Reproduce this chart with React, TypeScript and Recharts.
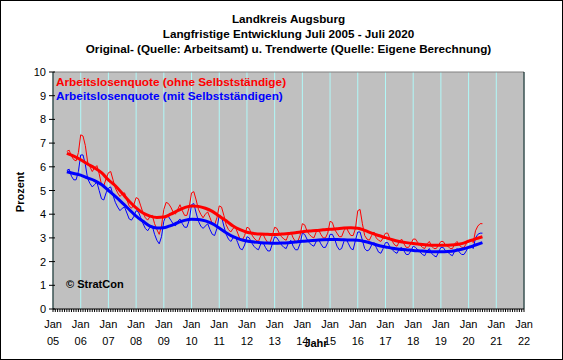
import { CartesianGrid, Line, LineChart, ReferenceLine, XAxis, YAxis } from 'recharts'

// monthly values Jul 2005 .. Jul 2020
const redOriginal = [
  6.65, 6.7, 6.45, 6.3, 6.25, 6.6,
  7.35, 7.3, 6.9, 6.2, 6.0, 5.8, 5.95, 6.05, 5.7, 5.25, 5.2, 5.5,
  5.75, 5.8, 5.45, 5.1, 4.9, 4.75, 4.85, 4.9, 4.6, 4.35, 4.25, 4.4,
  4.7, 4.65, 4.35, 4.05, 3.85, 3.75, 3.9, 3.95, 3.6, 3.35, 3.15, 3.5,
  4.2, 4.5, 4.45, 4.3, 4.1, 4.0, 4.2, 4.4, 4.15, 3.95, 3.95, 4.3,
  4.9, 4.95, 4.6, 4.2, 4.0, 3.85, 4.0, 4.1, 3.85, 3.6, 3.55, 3.85,
  4.35, 4.3, 3.95, 3.55, 3.35, 3.25, 3.4, 3.45, 3.2, 2.95, 2.9, 3.1,
  3.45, 3.4, 3.15, 3.0, 2.9, 2.85, 3.1, 3.15, 2.95, 2.8, 2.8, 3.1,
  3.45, 3.4, 3.2, 3.05, 2.95, 2.9, 3.15, 3.25, 3.0, 2.85, 2.85, 3.1,
  3.6, 3.55, 3.3, 3.15, 3.05, 3.0, 3.25, 3.35, 3.15, 3.0, 3.0, 3.2,
  3.7, 3.65, 3.35, 3.2, 3.05, 3.05, 3.3, 3.45, 3.25, 3.1, 3.1, 3.4,
  4.15, 4.2, 3.6, 3.1, 2.95, 2.9, 3.1, 3.25, 3.0, 2.9, 2.85, 3.0,
  3.2, 3.2, 2.95, 2.85, 2.7, 2.65, 2.85, 2.95, 2.75, 2.6, 2.6, 2.75,
  2.95, 2.95, 2.8, 2.7, 2.6, 2.55, 2.75, 2.85, 2.65, 2.55, 2.55, 2.7,
  2.85, 2.85, 2.7, 2.65, 2.55, 2.55, 2.75, 2.85, 2.7, 2.6, 2.6, 2.75,
  2.9, 2.9, 2.8, 3.3, 3.5, 3.6, 3.6,
]

const blueOriginal = [
  5.85, 5.9, 5.6, 5.45, 5.45, 5.8,
  6.5, 6.5, 6.1, 5.5, 5.3, 5.15, 5.25, 5.35, 5.0, 4.65, 4.6, 4.9,
  5.1, 5.15, 4.8, 4.5, 4.3, 4.15, 4.25, 4.3, 4.05, 3.8, 3.75, 3.9,
  4.15, 4.1, 3.85, 3.6, 3.4, 3.3, 3.45, 3.5, 3.15, 2.9, 2.75, 3.05,
  3.7, 3.95, 3.9, 3.75, 3.6, 3.5, 3.7, 3.8, 3.6, 3.45, 3.45, 3.75,
  4.4, 4.45, 4.05, 3.7, 3.5, 3.4, 3.5, 3.6, 3.35, 3.15, 3.1, 3.4,
  3.95, 3.9, 3.5, 3.15, 2.95, 2.85, 3.0, 3.05, 2.8, 2.55, 2.5, 2.7,
  3.05, 3.0, 2.8, 2.65, 2.55, 2.5, 2.75, 2.8, 2.6, 2.45, 2.45, 2.75,
  3.05, 3.0, 2.85, 2.7, 2.6, 2.55, 2.8, 2.9, 2.65, 2.5, 2.5, 2.75,
  3.2, 3.15, 2.95, 2.8, 2.7, 2.65, 2.85, 2.95, 2.75, 2.6, 2.6, 2.8,
  3.15, 3.15, 2.95, 2.65, 2.5, 2.55, 2.85, 2.95, 2.75, 2.55, 2.5, 2.9,
  3.25, 3.25, 2.9, 2.55, 2.45, 2.5, 2.7, 2.8, 2.6, 2.4, 2.35, 2.55,
  2.8, 2.8, 2.6, 2.5, 2.4, 2.35, 2.55, 2.6, 2.45, 2.3, 2.3, 2.45,
  2.65, 2.6, 2.5, 2.4, 2.3, 2.25, 2.45, 2.55, 2.35, 2.25, 2.2, 2.4,
  2.6, 2.6, 2.45, 2.4, 2.3, 2.25, 2.45, 2.55, 2.4, 2.3, 2.3, 2.45,
  2.65, 2.65, 2.55, 3.0, 3.15, 3.2, 3.2,
]

// quarterly trend values Jul 2005 .. Jul 2020
const redTrend = [
  6.57, 6.45,
  6.3, 6.12, 5.95, 5.75,
  5.45, 5.2, 4.88, 4.55,
  4.27, 4.05, 3.92, 3.86,
  3.88, 4.0, 4.15, 4.28,
  4.35, 4.33, 4.25, 4.12,
  3.92, 3.72, 3.5, 3.35,
  3.24, 3.19, 3.16, 3.15,
  3.14, 3.16, 3.19, 3.22,
  3.26, 3.29, 3.31, 3.34,
  3.36, 3.39, 3.42, 3.43,
  3.41, 3.32, 3.2, 3.1,
  3.01, 2.92, 2.85, 2.8,
  2.76, 2.73, 2.7, 2.69,
  2.69, 2.69, 2.71, 2.76,
  2.86, 2.96, 3.05,
]

const blueTrend = [
  5.79, 5.72,
  5.65, 5.53, 5.42, 5.25,
  5.0, 4.75, 4.48, 4.2,
  3.92, 3.7, 3.5, 3.42,
  3.43, 3.52, 3.64, 3.74,
  3.79, 3.78, 3.72, 3.6,
  3.42, 3.22, 3.05, 2.94,
  2.87, 2.83, 2.8, 2.78,
  2.77, 2.78, 2.8, 2.83,
  2.86, 2.88, 2.9, 2.92,
  2.93, 2.93, 2.92, 2.91,
  2.9, 2.85, 2.77, 2.68,
  2.62, 2.56, 2.52, 2.5,
  2.47, 2.45, 2.43, 2.42,
  2.42, 2.43, 2.46, 2.52,
  2.6, 2.7, 2.8,
]

const yearLabels = ['05', '06', '07', '08', '09', '10', '11', '12', '13', '14', '15', '16', '17', '18', '19', '20', '21', '22']
const yTicks = [0, 1, 2, 3, 4, 5, 6, 7, 8, 9, 10]

const titleLines = [
  'Landkreis Augsburg',
  'Langfristige Entwicklung Juli 2005 - Juli 2020',
  'Original- (Quelle: Arbeitsamt) u. Trendwerte (Quelle: Eigene Berechnung)',
]

const monthlyData = redOriginal.map((red, i) => ({ t: 2005 + (6 + i) / 12, red, blue: blueOriginal[i] }))
const trendData = redTrend.map((red, i) => ({ t: 2005.5 + i * 0.25, red, blue: blueTrend[i] }))

const monthTicks = Array.from({ length: 17 * 12 + 1 }, (_, k) => 2005 + k / 12)
const yearValues = yearLabels.map((_, i) => 2005 + i)

const FONT = '"Liberation Sans", Arial, sans-serif'

const XTick = ({ x, y, payload }: any) => {
  const k = Math.round((payload.value - 2005) * 12)
  const label = k % 12 === 0 ? yearLabels[k / 12] : null
  return (
    <g>
      <line x1={x} x2={x} y1={y} y2={y + 3} stroke="#000" />
      {label && (
        <text x={x} y={y + 19} textAnchor="middle" fontSize={11} fontFamily={FONT} fill="#000">
          Jan
        </text>
      )}
      {label && (
        <text x={x} y={y + 36} textAnchor="middle" fontSize={11} fontFamily={FONT} fill="#000">
          {label}
        </text>
      )}
    </g>
  )
}

const YTick = ({ x, y, payload, side }: any) => {
  const left = side === 'left'
  return (
    <g>
      <line x1={left ? x - 4 : x + 4} x2={left ? x + 2 : x - 2} y1={y} y2={y} stroke="#000" />
      <text
        x={left ? x - 7 : x + 7}
        y={y + 4}
        textAnchor={left ? 'end' : 'start'}
        fontSize={11}
        fontFamily={FONT}
        fill="#000"
      >
        {payload.value}
      </text>
    </g>
  )
}

const App = () => {
  return (
    <div style={{ position: 'absolute', left: 0, top: 0, width: 563, height: 360, background: '#fff' }}>
      <LineChart width={563} height={360} data={monthlyData} margin={{ top: 72, right: 0, bottom: 0, left: 0 }}>
        <CartesianGrid
          fill="#C0C0C0"
          fillOpacity={1}
          stroke="#B0F8F8"
          verticalValues={yearValues}
          horizontalValues={yTicks}
        />
        <XAxis
          dataKey="t"
          type="number"
          domain={[2005, 2022]}
          ticks={monthTicks}
          interval={0}
          height={51}
          tickSize={0}
          tickMargin={0}
          tickLine={false}
          axisLine={{ stroke: '#000' }}
          tick={<XTick />}
        />
        <YAxis
          yAxisId="left"
          domain={[0, 10]}
          ticks={yTicks}
          interval={0}
          width={53}
          tickSize={0}
          tickMargin={0}
          tickLine={false}
          axisLine={{ stroke: '#000' }}
          tick={<YTick side="left" />}
        />
        <YAxis
          yAxisId="right"
          orientation="right"
          domain={[0, 10]}
          ticks={yTicks}
          interval={0}
          width={39}
          tickSize={0}
          tickMargin={0}
          tickLine={false}
          axisLine={{ stroke: '#000' }}
          tick={<YTick side="right" />}
        />
        <ReferenceLine yAxisId="left" y={10} stroke="#808080" />
        <Line yAxisId="left" dataKey="red" stroke="#FF0000" strokeWidth={1} dot={false} isAnimationActive={false} />
        <Line yAxisId="left" dataKey="blue" stroke="#0000FF" strokeWidth={1} dot={false} isAnimationActive={false} />
        <Line
          yAxisId="left"
          data={trendData}
          dataKey="red"
          type="monotone"
          stroke="#FF0000"
          strokeWidth={3}
          dot={false}
          isAnimationActive={false}
        />
        <Line
          yAxisId="left"
          data={trendData}
          dataKey="blue"
          type="monotone"
          stroke="#0000FF"
          strokeWidth={3}
          dot={false}
          isAnimationActive={false}
        />
      </LineChart>
      <svg
        width={563}
        height={360}
        style={{ position: 'absolute', left: 0, top: 0, pointerEvents: 'none' }}
        fontFamily={FONT}
      >
        <rect x={0.5} y={0.5} width={562} height={359} fill="none" stroke="#000" />
        {titleLines.map((line, i) => (
          <text key={line} x={288.5} y={23 + i * 15} textAnchor="middle" fontSize={11.7} fontWeight="bold" fill="#000">
            {line}
          </text>
        ))}
        <text x={56} y={86} fontSize={11.8} fontWeight="bold" fill="#FF0000">
          Arbeitslosenquote (ohne Selbstständige)
        </text>
        <text x={56} y={100} fontSize={11.8} fontWeight="bold" fill="#0000FF">
          Arbeitslosenquote (mit Selbstständigen)
        </text>
        <text x={66} y={288} fontSize={11} fontWeight="bold" fill="#000">
          © StratCon
        </text>
        <text x={316} y={347} textAnchor="middle" fontSize={11} fontWeight="bold" fill="#000">
          Jahr
        </text>
        <text x={24} y={192} textAnchor="middle" fontSize={11} fontWeight="bold" fill="#000" transform="rotate(-90 24 192)">
          Prozent
        </text>
      </svg>
    </div>
  )
}

export default App
